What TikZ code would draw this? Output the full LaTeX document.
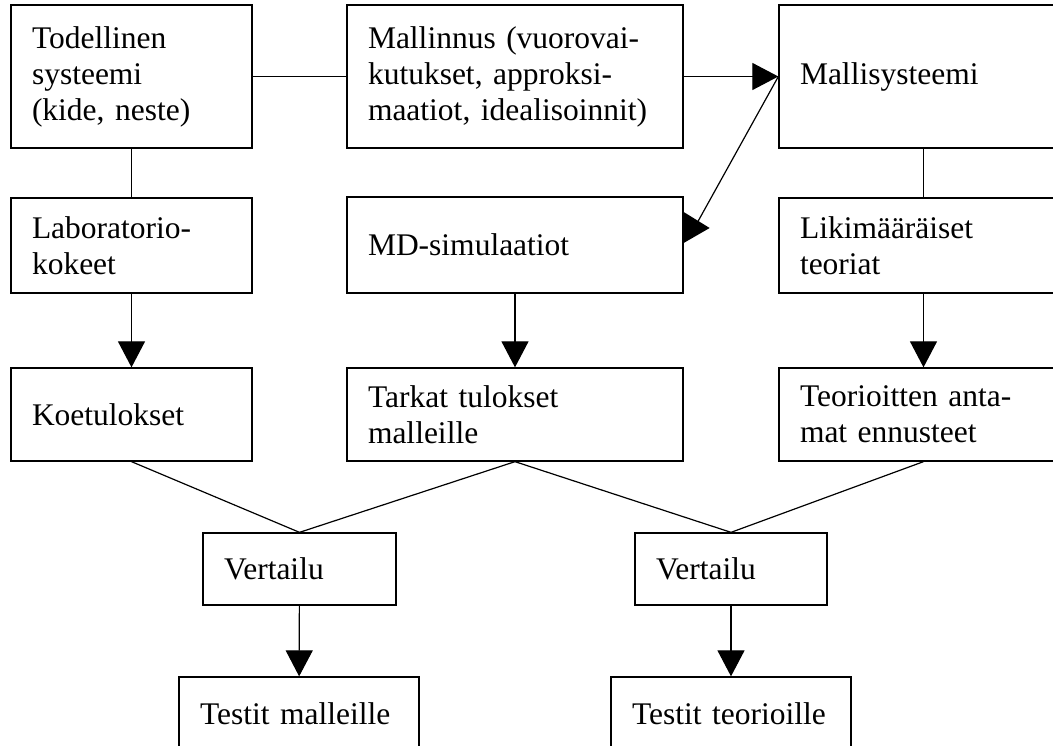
\documentclass[tikz,border=0pt]{standalone}
\usepackage{fontspec}
\setmainfont{Liberation Serif}
\usetikzlibrary{arrows.meta}
\usetikzlibrary{calc}

\tikzset{
  box/.style={draw, line width=1.3pt, rectangle, align=left, inner xsep=21pt, inner ysep=0pt,
    font=\fontsize{31.5}{36}\selectfont},
  tip/.style={-{Triangle[length=26pt,width=27pt]}},
}

\begin{document}
\begin{tikzpicture}[x=1pt,y=-1pt,line width=1.2pt]
            \useasboundingbox (0,0) rectangle (1053,746);
            \clip (0,0) rectangle (1053,746);
            \node[box, minimum height=143pt, text width=199pt] (todel) at (131.5,76.5) {Todellinen\\systeemi\\(kide, neste)};
            \node[box, minimum height=143pt, text width=294pt] (mallinnus) at (515,76.5) {Mallinnus (vuorovai-\\kutukset, approksi-\\maatiot, idealisoinnit)};
            \node[box, minimum height=143pt, text width=247pt] (malli) at (923.5,76.5) {Mallisysteemi};
            \node[box, minimum height=95pt, text width=199pt] (lab) at (131.5,245.5) {Laboratorio-\\kokeet};
            \node[box, minimum height=96pt, text width=294pt] (md) at (515,245) {MD-simulaatiot};
            \node[box, minimum height=95pt, text width=247pt] (likim) at (923.5,245.5) {Likimääräiset\\teoriat};
            \node[box, minimum height=93pt, text width=199pt] (koet) at (131.5,414.5) {Koetulokset};
            \node[box, minimum height=93pt, text width=294pt] (tarkat) at (515,414.5) {Tarkat tulokset\\malleille};
            \node[box, minimum height=93pt, text width=247pt] (teor) at (923.5,414.5) {Teorioitten anta-\\mat ennusteet};
            \node[box, minimum height=72pt, text width=151pt] (vert1) at (299.5,569) {Vertailu};
            \node[box, minimum height=72pt, text width=150pt] (vert2) at (731,569) {Vertailu};
            \node[box, minimum height=74pt, text width=198pt] (testm) at (299,714) {Testit malleille};
            \node[box, minimum height=74pt, text width=198pt] (testt) at (731,714) {Testit teorioille};
            \draw (todel) -- (mallinnus);
            \draw[tip] (mallinnus) -- (malli);
            \draw (todel) -- (lab);
            \draw (malli) -- (likim);
            % the head at MD-simulaatiot is drawn sideways as in the original
            \coordinate (mdhead) at ($(md.east)+(0,-17)$);
            \draw (malli.west) -- ($(mdhead)+(14,-6)$);
            \fill (mdhead) ++(0,-16) -- ++(26,16) -- ++(-26,15) -- cycle;
            \draw[tip] (lab) -- (koet);
            \draw[tip] (md) -- (tarkat);
            \draw[tip] (likim) -- (teor);
            \draw (koet.south) -- (vert1.north);
            \draw (tarkat.south) -- (vert1.north);
            \draw (tarkat.south) -- (vert2.north);
            \draw (teor.south) -- (vert2.north);
            \draw[tip] (vert1) -- (testm);
            \draw[tip] (vert2) -- (testt);
        \end{tikzpicture}
\end{document}
